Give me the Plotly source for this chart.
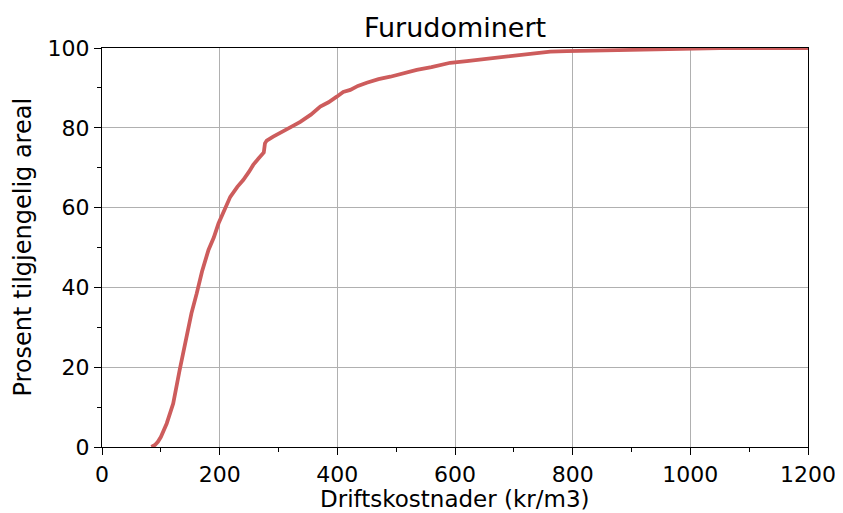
import plotly.graph_objects as go

cost = [84, 90, 95, 100, 110, 121, 132, 144, 152, 161, 170, 181, 190, 198, 208, 218,
        230, 240, 250, 257, 266, 272, 275, 277, 280, 291, 308, 320, 337, 355, 371, 385,
        399, 410, 422, 435, 450, 470, 490, 512, 535, 560, 592, 620, 648, 676, 705, 735,
        762, 790, 818, 860, 915, 980, 1050, 1120, 1200]
percent = [0, 0.5, 1.3, 2.5, 5.9, 10.9, 19.3, 28.5, 33.5, 38.5, 44, 49.4, 52.5, 56, 59.5, 62.7,
           65.2, 66.9, 69, 70.7, 72.3, 73.2, 73.8, 76.1, 76.8, 77.8, 79.0, 80.1, 81.5, 83.3, 85.3, 86.4,
           87.8, 89, 89.5, 90.5, 91.3, 92.2, 92.8, 93.7, 94.5, 95.2, 96.3, 96.7, 97.2, 97.5, 98.2, 98.7,
           99.1, 99.2, 99.3, 99.5, 99.7, 99.85, 99.95, 100, 100]

title_text = "Furudominert"
x_title = "Driftskostnader (kr/m3)"
y_title = "Prosent tilgjengelig areal"
x_ticks = [0, 200, 400, 600, 800, 1000, 1200]
y_ticks = [0, 20, 40, 60, 80, 100]

font = "DejaVu Sans"

fig = go.Figure()
fig.add_trace(go.Scatter(x=cost, y=percent, mode="lines",
                         line=dict(color="#CD5C5C", width=3.8), showlegend=False))

axis_common = dict(
    showline=True, linecolor="black", linewidth=1.2, mirror=True,
    ticks="outside", ticklen=7, tickwidth=1.2, tickcolor="black",
    showgrid=True, gridcolor="#b0b0b0", gridwidth=1,
    zeroline=False, automargin=False,
    tickfont=dict(family=font, size=22, color="black"),
)

fig.update_xaxes(range=[0, 1200], tickvals=x_ticks, ticktext=[str(v) for v in x_ticks],
                 minor=dict(dtick=100, tick0=0, ticks="outside", ticklen=4, tickwidth=1, tickcolor="black", showgrid=False),
                 **axis_common)
fig.update_yaxes(range=[0, 100], tickvals=y_ticks, ticktext=[str(v) for v in y_ticks],
                 minor=dict(dtick=10, tick0=0, ticks="outside", ticklen=4, tickwidth=1, tickcolor="black", showgrid=False),
                 **axis_common)

W, H = 835, 505
L, R, T, B = 94, 35, 40, 66
plot_h = H - T - B
plot_w = W - L - R

fig.add_annotation(text=x_title, xref="paper", yref="paper", x=0.5, y=(H - B - 491) / plot_h,
                   xanchor="center", yanchor="middle", showarrow=False,
                   font=dict(family=font, size=23, color="black"))
fig.add_annotation(text=y_title, xref="paper", yref="paper", x=(14 - L) / plot_w, y=0.5,
                   xanchor="center", yanchor="middle", showarrow=False, textangle=-90,
                   font=dict(family=font, size=24, color="black"))

fig.update_layout(
    width=W, height=H,
    margin=dict(l=L, r=R, t=T, b=B),
    paper_bgcolor="white", plot_bgcolor="white",
    title=dict(text=title_text, x=0.5, xanchor="center", xref="paper",
               y=1 - 20 / H, yanchor="middle",
               font=dict(family=font, size=27, color="black")),
)

fig.write_html("out.html")
